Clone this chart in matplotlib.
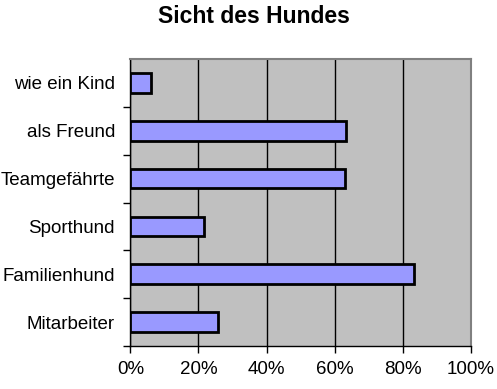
import matplotlib
matplotlib.use("Agg")
from matplotlib import pyplot as plt
from matplotlib.ticker import FuncFormatter

plt.rcParams['font.family'] = ['Liberation Sans', 'DejaVu Sans']

# categories from top to bottom as shown in the chart
categories = ["wie ein Kind", "als Freund", "Teamgefährte",
              "Sporthund", "Familienhund", "Mitarbeiter"]
values = [6.1, 63.3, 63.1, 21.6, 83.3, 25.6]
xticks = [0, 20, 40, 60, 80, 100]

fig = plt.figure(figsize=(4.97, 3.89), dpi=100)
ax = fig.add_axes([0.2622, 0.1105, 0.6855, 0.7378])
ax.set_facecolor('#c0c0c0')

pos = list(range(len(categories)))[::-1]
ax.barh(pos, values, height=0.41, color='#9999ff', edgecolor='black',
        linewidth=2, zorder=3)

ax.set_xlim(0, 100)
ax.set_ylim(-0.5, len(categories) - 0.5)
ax.set_xticks(xticks)
ax.xaxis.set_major_formatter(FuncFormatter(lambda v, p: "%d%%" % v))
ax.grid(axis='x', color='black', linewidth=1, zorder=1)

# y ticks between categories, labels at the centres
ax.set_yticks([p + 0.5 for p in range(len(categories) - 1)] + [-0.5])
ax.set_yticklabels([])
ax.set_yticks(pos, minor=True)
ax.set_yticklabels(categories, minor=True, fontsize=13.5)
ax.tick_params(axis='y', which='minor', length=0, pad=11)
ax.tick_params(axis='y', which='major', length=5, width=1, direction='out')
ax.tick_params(axis='x', length=5, width=1, direction='out', pad=6,
               labelsize=13.5)

for side in ['top', 'right']:
    ax.spines[side].set_color('#808080')
    ax.spines[side].set_linewidth(1.5)
for side in ['left', 'bottom']:
    ax.spines[side].set_color('black')
    ax.spines[side].set_linewidth(1)

fig.text(0.511, 0.958, "Sicht des Hundes", ha='center', va='center',
         fontsize=16.5, fontweight='bold')

fig.savefig("out.png", dpi=100)
